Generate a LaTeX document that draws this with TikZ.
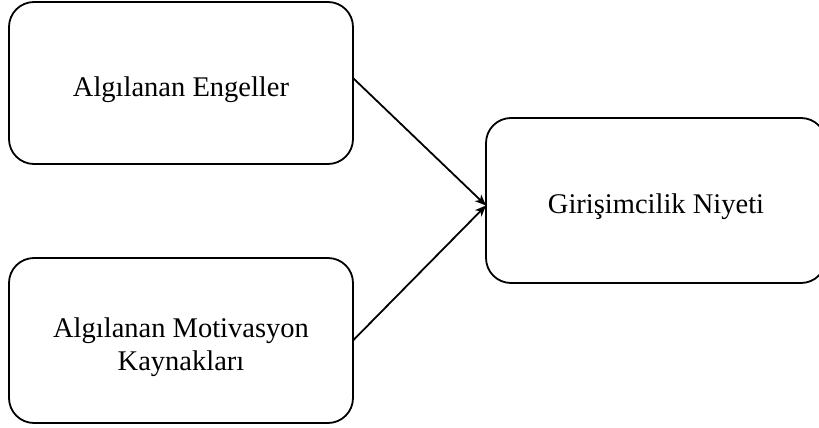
\documentclass[tikz,border=0pt]{standalone}
\usepackage{fontspec}
\setmainfont{Liberation Serif}
\usetikzlibrary{arrows.meta}
\newcommand{\lowstrut}{\rule{0pt}{33pt}}
\begin{document}
\begin{tikzpicture}[x=1pt,y=-1pt,
  box/.style={draw=black, line width=1.8pt, rounded corners=25pt, fill=white,
    inner sep=0pt, outer sep=0pt, align=center,
    font=\fontsize{28.5}{33}\selectfont},
  conn/.style={line width=1.8pt, -{Stealth[length=11pt,width=9pt,inset=3pt]}}]
\useasboundingbox (0,0) rectangle (819,428);
\node[box, minimum width=344pt, minimum height=162pt] (eng) at (181,83) {\lowstrut Algılanan Engeller};
\node[box, minimum width=344pt, minimum height=165pt] (mot) at (181,340.5) {\lowstrut Algılanan Motivasyon\\Kaynakları};
\node[box, minimum width=340pt, minimum height=165pt] (niy) at (656,200.5) {\lowstrut Girişimcilik Niyeti};
\draw[conn] ([yshift=5pt]eng.east) -- ([yshift=-5pt]niy.west);
\draw[conn] (mot.east) -- ([yshift=-5pt]niy.west);
\end{tikzpicture}
\end{document}
